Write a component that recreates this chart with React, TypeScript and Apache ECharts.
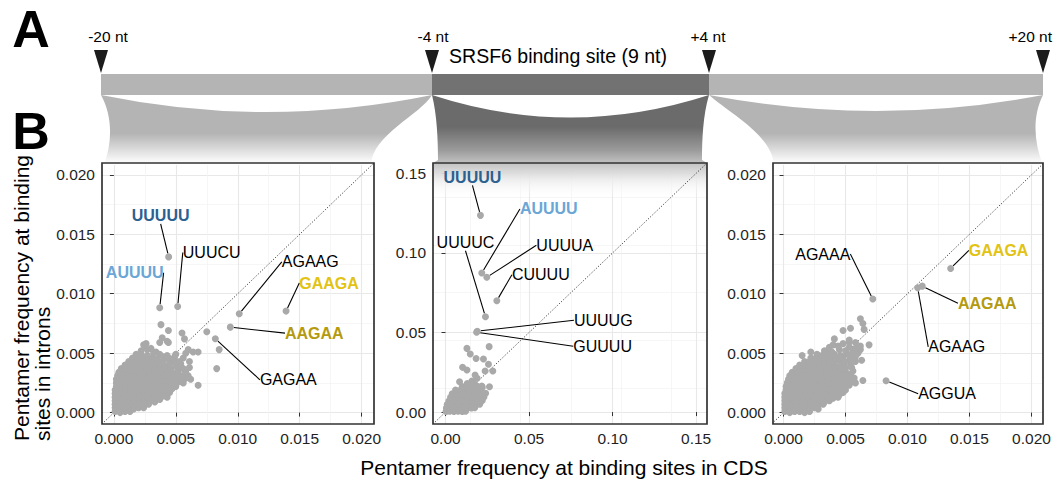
import React, { useEffect, useRef } from "react";
import * as echarts from "echarts";

const FONT = "'Liberation Sans', Arial, Helvetica, sans-serif";
const POINT_COLOR = "#a9a9a9";

// ---- tick values ----
const fineTicks = [0, 0.005, 0.01, 0.015, 0.02];
const siteTicks = [0, 0.05, 0.1, 0.15];

// ---- axis extents (x, y) per panel ----
const upstreamXRange = [-0.00096, 0.021];
const upstreamYRange = [-0.00096, 0.021];
const siteXRange = [-0.0075, 0.1565];
const siteYRange = [-0.0075, 0.1565];
const downstreamXRange = [-0.00085, 0.02093];
const downstreamYRange = [-0.00096, 0.021];

// ---- pentamer frequencies [CDS, introns]: flank -20..-4 nt ----
const upstreamCloud: number[][] = [
  [.0001,.0001],[.0005,0],[.0009,.0001],[.0013,.0001],
  [.0001,.0004],[.0004,.0003],[.0008,.0004],[.0012,.0004],[.0016,.0003],[.0020,.0004],[.0024,.0004],
  [.0001,.0007],[.0004,.0007],[.0008,.0006],[.0012,.0007],[.0016,.0007],[.0020,.0006],[.0024,.0007],[.0028,.0007],
  [.0001,.0010],[.0005,.0010],[.0009,.0009],[.0013,.0010],[.0017,.0010],[.0021,.0009],[.0025,.0010],[.0029,.0010],[.0033,.0009],[.0037,.0011],
  [.0001,.0013],[.0004,.0013],[.0008,.0012],[.0012,.0013],[.0016,.0013],[.0020,.0012],[.0024,.0013],[.0028,.0013],[.0032,.0013],[.0036,.0012],[.0040,.0014],[.0043,.0013],
  [.0001,.0016],[.0005,.0016],[.0009,.0015],[.0013,.0016],[.0017,.0016],[.0021,.0015],[.0025,.0016],[.0029,.0016],[.0033,.0015],[.0037,.0016],[.0041,.0016],[.0045,.0017],
  [.0001,.0019],[.0004,.0019],[.0008,.0018],[.0012,.0019],[.0016,.0019],[.0020,.0018],[.0024,.0019],[.0028,.0019],[.0032,.0018],[.0036,.0019],[.0040,.0019],[.0044,.0019],[.0047,.0020],
  [.0002,.0022],[.0006,.0022],[.0010,.0021],[.0014,.0022],[.0018,.0022],[.0022,.0021],[.0026,.0022],[.0030,.0022],[.0034,.0021],[.0038,.0022],[.0042,.0022],[.0046,.0021],[.0050,.0022],
  [.0002,.0025],[.0005,.0025],[.0009,.0024],[.0013,.0025],[.0017,.0025],[.0021,.0024],[.0025,.0025],[.0029,.0025],[.0033,.0024],[.0037,.0025],[.0041,.0025],[.0045,.0024],[.0049,.0025],[.0053,.0026],[.0056,.0025],
  [.0002,.0028],[.0006,.0028],[.0010,.0027],[.0014,.0028],[.0018,.0028],[.0022,.0027],[.0026,.0028],[.0030,.0028],[.0034,.0027],[.0038,.0028],[.0042,.0028],[.0046,.0027],[.0050,.0028],[.0054,.0028],[.0058,.0029],[.0062,.0028],
  [.0003,.0031],[.0007,.0031],[.0011,.0030],[.0015,.0031],[.0019,.0031],[.0023,.0030],[.0027,.0031],[.0031,.0031],[.0035,.0030],[.0039,.0031],[.0043,.0031],[.0047,.0030],[.0051,.0031],[.0055,.0031],[.0060,.0031],
  [.0004,.0034],[.0008,.0034],[.0012,.0033],[.0016,.0034],[.0020,.0034],[.0024,.0033],[.0028,.0034],[.0032,.0034],[.0036,.0033],[.0040,.0034],[.0044,.0034],[.0048,.0033],[.0052,.0035],[.0058,.0034],
  [.0006,.0037],[.0010,.0037],[.0014,.0036],[.0018,.0037],[.0022,.0037],[.0026,.0036],[.0030,.0037],[.0034,.0037],[.0038,.0036],[.0042,.0037],[.0046,.0037],[.0051,.0038],[.0056,.0037],[.0061,.0038],
  [.0009,.0040],[.0013,.0040],[.0017,.0039],[.0021,.0040],[.0025,.0040],[.0029,.0039],[.0033,.0040],[.0037,.0040],[.0041,.0039],[.0045,.0041],[.0050,.0040],[.0054,.0041],
  [.0012,.0043],[.0016,.0043],[.0020,.0042],[.0024,.0043],[.0028,.0043],[.0032,.0042],[.0036,.0043],[.0040,.0044],[.0045,.0043],[.0049,.0044],[.0053,.0043],[.0061,.0043],
  [.0015,.0046],[.0019,.0046],[.0023,.0045],[.0027,.0046],[.0031,.0046],[.0035,.0045],[.0040,.0047],[.0044,.0046],[.0049,.0047],[.0056,.0046],
  [.0018,.0049],[.0022,.0049],[.0027,.0048],[.0032,.0050],[.0037,.0049],[.0043,.0048],[.0050,.0049],[.0058,.0050],
  [.0022,.0052],[.0027,.0053],[.0034,.0051],[.0060,.0053],[.0064,.0051],[.0068,.0051],
  [.0025,.0056],[.0030,.0054],[.0026,.0058],[.0024,.0057],
  [.0038,.0074],[.0044,.0069],[.0039,.0063],[.0043,.0060],[.0037,.0059],[.0055,.0067],[.0057,.0062],
  [.0075,.0068],[.0085,.0053],[.0083,.0037],[.0068,.0023],[.0044,.0059],
];
const upstreamMotifs = [
  { name: "UUUUU", value: [0.00442, 0.0131] },
  { name: "UUUCU", value: [0.00515, 0.00893] },
  { name: "AUUUU", value: [0.0037, 0.00882] },
  { name: "AGAAG", value: [0.01012, 0.00831] },
  { name: "GAAGA", value: [0.0139, 0.00854] },
  { name: "AAGAA", value: [0.0094, 0.00719] },
  { name: "GAGAA", value: [0.00819, 0.00621] },
];

// ---- SRSF6 binding site (9 nt) ----
const siteCloud: number[][] = [
  [.0003,.0004],[.0025,.0005],[.0050,.0003],[.0075,.0006],[.0100,.0004],[.0120,.0005],
  [.0005,.0025],[.0030,.0023],[.0055,.0026],[.0080,.0024],[.0105,.0025],[.0130,.0023],[.0155,.0026],[.0175,.0028],
  [.0010,.0048],[.0035,.0046],[.0060,.0049],[.0085,.0047],[.0110,.0048],[.0135,.0046],[.0160,.0049],[.0185,.0047],[.0205,.0050],
  [.0020,.0070],[.0045,.0072],[.0070,.0069],[.0095,.0071],[.0120,.0070],[.0145,.0072],[.0170,.0069],[.0195,.0071],[.0220,.0073],
  [.0030,.0093],[.0055,.0091],[.0080,.0094],[.0105,.0092],[.0130,.0093],[.0155,.0091],[.0180,.0094],[.0205,.0092],[.0230,.0095],
  [.0040,.0115],[.0065,.0117],[.0090,.0114],[.0115,.0116],[.0140,.0115],[.0165,.0117],[.0190,.0114],[.0215,.0116],[.0240,.0118],
  [.0060,.0138],[.0085,.0136],[.0110,.0139],[.0135,.0137],[.0160,.0138],[.0185,.0136],[.0210,.0140],
  [.0100,.0160],[.0130,.0163],[.0160,.0158],[.0190,.0162],[.0220,.0155],
  [.0130,.0180],[.0175,.0175],
  [.0084,.0191],[.0158,.0195],[.0217,.0163],[.0263,.0159],[.0177,.0233],[.0189,.0212],[.0237,.0258],[.0283,.0258],
  [.0102,.0281],[.0128,.0264],[.0257,.0300],[.0183,.0337],[.0227,.0333],[.0148,.0365],[.0128,.0400],[.0261,.0411],
];
const siteMotifs = [
  { name: "UUUUU", value: [0.0209, 0.1236] },
  { name: "AUUUU", value: [0.0217, 0.0874] },
  { name: "UUUUC", value: [0.0239, 0.0599] },
  { name: "UUUUA", value: [0.0247, 0.0847] },
  { name: "CUUUU", value: [0.0307, 0.070] },
  { name: "UUUUG", value: [0.019, 0.0508] },
  { name: "GUUUU", value: [0.0186, 0.0502] },
];

// ---- flank +4..+20 nt ----
const downstreamCloud: number[][] = [
  [.0001,.0001],[.0005,0],[.0009,.0001],[.0013,.0001],[.0017,0],[.0021,.0001],
  [.0001,.0004],[.0005,.0003],[.0009,.0004],[.0013,.0004],[.0017,.0003],[.0021,.0004],[.0025,.0004],[.0028,.0003],
  [.0001,.0007],[.0004,.0006],[.0008,.0007],[.0012,.0007],[.0016,.0006],[.0020,.0007],[.0024,.0007],[.0028,.0006],[.0032,.0007],
  [.0001,.0010],[.0005,.0010],[.0009,.0009],[.0013,.0010],[.0017,.0010],[.0021,.0009],[.0025,.0010],[.0029,.0010],[.0033,.0009],[.0037,.0010],
  [.0001,.0013],[.0004,.0012],[.0008,.0013],[.0012,.0013],[.0016,.0012],[.0020,.0013],[.0024,.0013],[.0028,.0012],[.0032,.0013],[.0036,.0013],[.0040,.0012],[.0044,.0013],
  [.0001,.0016],[.0005,.0016],[.0009,.0015],[.0013,.0016],[.0017,.0016],[.0021,.0015],[.0025,.0016],[.0029,.0016],[.0033,.0015],[.0037,.0016],[.0041,.0016],[.0045,.0015],[.0048,.0017],
  [.0002,.0019],[.0006,.0019],[.0010,.0018],[.0014,.0019],[.0018,.0019],[.0022,.0018],[.0026,.0019],[.0030,.0019],[.0034,.0018],[.0038,.0019],[.0042,.0019],[.0046,.0018],[.0050,.0019],
  [.0002,.0022],[.0005,.0022],[.0009,.0021],[.0013,.0022],[.0017,.0022],[.0021,.0021],[.0025,.0022],[.0029,.0022],[.0033,.0021],[.0037,.0022],[.0041,.0022],[.0045,.0021],[.0049,.0022],[.0053,.0023],
  [.0003,.0025],[.0007,.0025],[.0011,.0024],[.0015,.0025],[.0019,.0025],[.0023,.0024],[.0027,.0025],[.0031,.0025],[.0035,.0024],[.0039,.0025],[.0043,.0025],[.0047,.0024],[.0051,.0025],[.0055,.0026],[.0058,.0025],
  [.0004,.0028],[.0008,.0028],[.0012,.0027],[.0016,.0028],[.0020,.0028],[.0024,.0027],[.0028,.0028],[.0032,.0028],[.0036,.0027],[.0040,.0028],[.0044,.0028],[.0048,.0027],[.0052,.0028],[.0057,.0029],[.0064,.0027],
  [.0005,.0031],[.0009,.0031],[.0013,.0030],[.0017,.0031],[.0021,.0031],[.0025,.0030],[.0029,.0031],[.0033,.0031],[.0037,.0030],[.0041,.0031],[.0045,.0031],[.0049,.0030],[.0054,.0032],
  [.0007,.0034],[.0011,.0034],[.0015,.0033],[.0019,.0034],[.0023,.0034],[.0027,.0033],[.0031,.0034],[.0035,.0034],[.0039,.0033],[.0043,.0034],[.0047,.0034],[.0051,.0033],[.0056,.0035],
  [.0010,.0037],[.0014,.0037],[.0018,.0036],[.0022,.0037],[.0026,.0037],[.0030,.0036],[.0034,.0037],[.0038,.0037],[.0042,.0036],[.0046,.0037],[.0050,.0037],[.0055,.0038],
  [.0013,.0040],[.0017,.0040],[.0021,.0039],[.0025,.0040],[.0029,.0040],[.0033,.0039],[.0037,.0040],[.0041,.0040],[.0045,.0039],[.0049,.0041],[.0054,.0040],
  [.0017,.0043],[.0021,.0043],[.0025,.0042],[.0029,.0043],[.0033,.0043],[.0037,.0042],[.0041,.0043],[.0045,.0044],[.0049,.0043],[.0053,.0044],[.0058,.0043],[.0063,.0044],
  [.0022,.0046],[.0026,.0046],[.0030,.0045],[.0034,.0046],[.0038,.0046],[.0043,.0045],[.0048,.0047],[.0054,.0046],[.0058,.0047],
  [.0027,.0049],[.0031,.0048],[.0036,.0050],[.0041,.0049],[.0046,.0048],[.0052,.0049],[.0060,.0050],
  [.0033,.0052],[.0039,.0051],[.0045,.0053],[.0050,.0052],[.0056,.0051],[.0062,.0053],
  [.0037,.0055],[.0044,.0056],[.0053,.0055],[.0058,.0054],[.0062,.0056],[.0069,.0057],
  [.0040,.0057],[.0048,.0058],[.0053,.0059],[.0058,.0059],[.0041,.0062],[.0053,.0061],
  [.0048,.0069],[.0054,.0071],[.0065,.0070],[.0064,.0075],[.0062,.0079],[.0015,.0048],[.0022,.0051],
];
const downstreamMotifs = [
  { name: "AGAAA", value: [0.0072, 0.00955] },
  { name: "GAAGA", value: [0.01348, 0.01213] },
  { name: "AAGAA", value: [0.01119, 0.01064] },
  { name: "AGAAG", value: [0.01082, 0.0105] },
  { name: "AGGUA", value: [0.00827, 0.00268] },
];

// ---- label styling and placement (offset of label centre from its point, px) ----
const motifColors: Record<string, string> = {
  UUUUU: "#2b6190",
  AUUUU: "#6aa6d6",
  GAAGA: "#e2c313",
  AAGAA: "#b49a0e",
};
const upstreamOffsets: Record<string, number[]> = {
  UUUUU: [-8, -41], UUUCU: [34, -54], AUUUU: [-25, -35], AGAAG: [71, -52],
  GAAGA: [43, -28], AAGAA: [84, 6], GAGAA: [73, 41],
};
const siteOffsets: Record<string, number[]> = {
  UUUUU: [-8, -38], AUUUU: [67, -64], UUUUC: [-20, -74], UUUUA: [78, -32],
  CUUUU: [44, -26], UUUUG: [126, -11], GUUUU: [126, 14],
};
const downstreamOffsets: Record<string, number[]> = {
  AGAAA: [-50, -45], GAAGA: [48, -18], AAGAA: [65, 17], AGAAG: [39, 59], AGGUA: [61, 13],
};

// ---- panel frames (px) ----
const panelBoxes = [
  { left: 102, top: 163, width: 272, height: 261 },
  { left: 433, top: 163, width: 274, height: 261 },
  { left: 773, top: 163, width: 270, height: 261 },
];

// ---- schematic shapes ----
const FUNNEL_PATHS: Record<string, string> = {
  funnelLeft: "M101 95 Q266 129 432 95 C420 115 372 135 371 165 L104 165 C113 140 112 115 101 95 Z",
  funnelMid:
    "M432 95 Q570 140 709 95 C703 115 702 140 702 160 L707 163 L707 202 L433 202 L433 163 L438 160 C438 140 437 115 432 95 Z",
  funnelRight: "M709 95 Q876 127 1043 95 C1033 115 1033 140 1043 165 L774 165 C772 135 728 112 709 95 Z",
};
Object.keys(FUNNEL_PATHS).forEach((k) => {
  echarts.graphic.registerShape(k, echarts.graphic.extendPath(FUNNEL_PATHS[k], {}) as any);
});

function buildOption() {
  const xRanges = [upstreamXRange, siteXRange, downstreamXRange];
  const yRanges = [upstreamYRange, siteYRange, downstreamYRange];
  const ticks = [fineTicks, siteTicks, fineTicks];
  const decimals = [3, 2, 3];
  const clouds = [upstreamCloud, siteCloud, downstreamCloud];
  const motifs = [upstreamMotifs, siteMotifs, downstreamMotifs];
  const offsets = [upstreamOffsets, siteOffsets, downstreamOffsets];

  const axisCommon = (i: number) => ({
    type: "value",
    gridIndex: i,
    axisLine: { show: false },
    axisTick: { show: true, length: 4, lineStyle: { color: "#333", width: 1 }, customValues: ticks[i] },
    axisLabel: {
      customValues: ticks[i],
      formatter: (v: number) => v.toFixed(decimals[i]),
      color: "#1f1f1f",
      fontSize: 15.5,
      fontFamily: FONT,
    },
    splitLine: { show: true, lineStyle: { color: "#e8e8e8", width: 1.1 } },
    minorTick: { show: false, splitNumber: 2 },
    minorSplitLine: { show: true, lineStyle: { color: "#f2f2f2", width: 0.7 } },
  });

  const series: any[] = [];
  for (let i = 0; i < 3; i++) {
    const lo = Math.min(xRanges[i][0], yRanges[i][0]);
    const hi = Math.max(xRanges[i][1], yRanges[i][1]);
    series.push({
      type: "line",
      xAxisIndex: i,
      yAxisIndex: i,
      data: [[lo, lo], [hi, hi]],
      symbol: "none",
      silent: true,
      clip: true,
      z: 1.5,
      lineStyle: { color: "#2b2b2b", width: 0.9, type: [1.2, 1.8] },
    });
    series.push({
      type: "scatter",
      xAxisIndex: i,
      yAxisIndex: i,
      data: clouds[i],
      symbolSize: 7,
      itemStyle: { color: POINT_COLOR, opacity: 1 },
      silent: true,
      z: 2,
    });
    const items = motifs[i].map((m) => {
      const c = motifColors[m.name];
      return {
        name: m.name,
        value: m.value,
        label: c ? { color: c, fontWeight: "bold" } : { color: "#000", fontWeight: "normal" },
      };
    });
    const off = offsets[i];
    const names = motifs[i].map((m) => m.name);
    series.push({
      type: "scatter",
      xAxisIndex: i,
      yAxisIndex: i,
      data: items,
      symbolSize: 7,
      itemStyle: { color: POINT_COLOR, opacity: 1 },
      silent: true,
      z: 3,
      label: {
        show: true,
        formatter: "{b}",
        position: "inside",
        fontSize: 16,
        fontFamily: FONT,
        padding: [2, 3],
        textBorderWidth: 0,
        textBorderColor: "transparent",
        opacity: 1,
      },
      labelLine: { show: true, length2: 0, lineStyle: { color: "#000", width: 1.1, opacity: 1 } },
      labelLayout: (p: any) => {
        const d = off[names[p.dataIndex]] || [0, 0];
        const cx = p.rect.x + p.rect.width / 2;
        const cy = p.rect.y + p.rect.height / 2;
        return { x: cx + d[0], y: cy + d[1], align: "center", verticalAlign: "middle" };
      },
    });
  }

  const lightFade = () =>
    new echarts.graphic.LinearGradient(0, 0, 0, 1, [
      { offset: 0, color: "#b4b4b4" },
      { offset: 0.55, color: "#b4b4b4" },
      { offset: 0.98, color: "#ffffff" },
    ]);
  const darkFade = new echarts.graphic.LinearGradient(0, 0, 0, 1, [
    { offset: 0, color: "#6b6b6b" },
    { offset: 0.3, color: "#6b6b6b" },
    { offset: 0.52, color: "#9c9c9c" },
    { offset: 0.65, color: "#c6c6c6" },
    { offset: 0.79, color: "rgba(235,235,235,0.9)" },
    { offset: 0.97, color: "rgba(255,255,255,0)" },
  ]);

  const textStyle = (text: string, size: number, extra: any = {}) => ({
    text,
    fontSize: size,
    fontFamily: FONT,
    fill: "#000",
    align: "center",
    verticalAlign: "middle",
    ...extra,
  });

  const markers = [101, 432, 709, 1043];
  const elements: any[] = [
    { type: "text", x: 31, y: 29, z: 5, style: textStyle("A", 52, { fontWeight: "bold" }) },
    { type: "text", x: 31, y: 131, z: 5, style: textStyle("B", 52, { fontWeight: "bold" }) },
    { type: "text", x: 108, y: 36, z: 5, style: textStyle("-20 nt", 15.5) },
    { type: "text", x: 433, y: 36, z: 5, style: textStyle("-4 nt", 15.5) },
    { type: "text", x: 708, y: 36, z: 5, style: textStyle("+4 nt", 15.5) },
    { type: "text", x: 1052, y: 36, z: 5, style: textStyle("+20 nt", 15.5, { align: "right" }) },
    { type: "text", x: 558, y: 56, z: 5, style: textStyle("SRSF6 binding site (9 nt)", 19.5) },
    { type: "rect", z: 1, shape: { x: 101, y: 74, width: 331, height: 21 }, style: { fill: "#b4b4b4" } },
    { type: "rect", z: 1, shape: { x: 432, y: 74, width: 277, height: 21 }, style: { fill: "#727272" } },
    { type: "rect", z: 1, shape: { x: 709, y: 74, width: 334, height: 21 }, style: { fill: "#b4b4b4" } },
    ...markers.map((m) => ({
      type: "polygon",
      z: 5,
      shape: { points: [[m - 7, 50], [m + 7, 50], [m, 73]] },
      style: { fill: "#1c1c1c" },
    })),
    { type: "funnelLeft", x: 0, y: 0, z: 1, style: { fill: lightFade() } },
    { type: "funnelMid", x: 0, y: 0, z: 1, style: { fill: darkFade } },
    { type: "funnelRight", x: 0, y: 0, z: 1, style: { fill: lightFade() } },
    ...panelBoxes.map((b) => ({
      type: "rect",
      z: 6,
      shape: { x: b.left, y: b.top, width: b.width, height: b.height },
      style: { fill: "none", stroke: "#333", lineWidth: 1.7 },
    })),
    {
      type: "text",
      x: 21,
      y: 441,
      rotation: Math.PI / 2,
      z: 5,
      style: textStyle("Pentamer frequency at binding", 21, { align: "left" }),
    },
    {
      type: "text",
      x: 42,
      y: 441,
      rotation: Math.PI / 2,
      z: 5,
      style: textStyle("sites in introns", 21, { align: "left" }),
    },
    { type: "text", x: 564, y: 467, z: 5, style: textStyle("Pentamer frequency at binding sites in CDS", 21) },
  ];

  return {
    animation: false,
    backgroundColor: "#fff",
    textStyle: { fontFamily: FONT },
    grid: panelBoxes.map((b) => ({ left: b.left, top: b.top, width: b.width, height: b.height, show: false })),
    xAxis: [0, 1, 2].map((i) => ({
      ...axisCommon(i),
      min: xRanges[i][0],
      max: xRanges[i][1],
      axisLabel: { ...axisCommon(i).axisLabel, margin: 6 },
    })),
    yAxis: [0, 1, 2].map((i) => ({
      ...axisCommon(i),
      min: yRanges[i][0],
      max: yRanges[i][1],
      axisLabel: { ...axisCommon(i).axisLabel, margin: 7 },
    })),
    series,
    graphic: { elements },
  };
}

export default function App() {
  const ref = useRef<HTMLDivElement>(null);
  useEffect(() => {
    if (!ref.current) return;
    const chart = echarts.init(ref.current, undefined, { renderer: "svg" });
    chart.setOption(buildOption() as any);
    return () => chart.dispose();
  }, []);
  return (
    <div
      ref={ref}
      style={{ position: "absolute", left: 0, top: 0, width: 1056, height: 486, background: "#fff" }}
    />
  );
}
